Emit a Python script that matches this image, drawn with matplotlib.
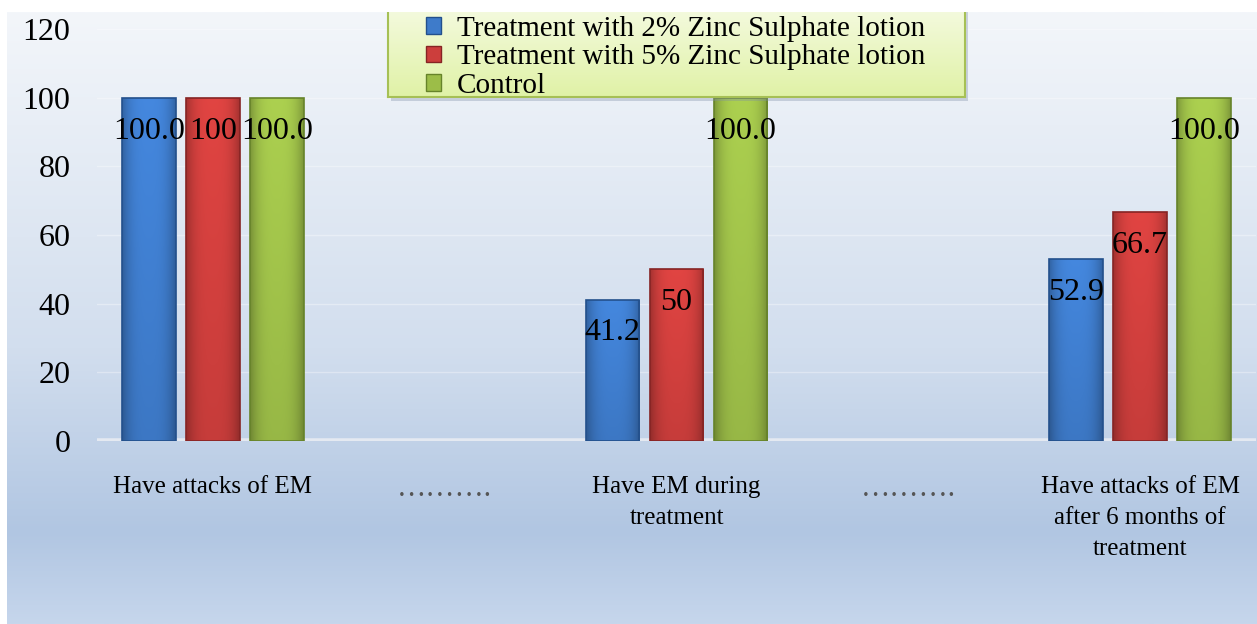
import numpy as np
import matplotlib.pyplot as plt
from matplotlib.patches import Patch, Rectangle
from matplotlib.colors import LinearSegmentedColormap, to_rgb

plt.rcParams['font.family'] = ['Liberation Serif', 'DejaVu Serif']

categories = ['Have attacks of EM', '……….', 'Have EM during\ntreatment', '……….',
              'Have attacks of EM\nafter 6 months of\ntreatment']
series = ['Treatment with 2% Zinc Sulphate lotion',
          'Treatment with 5% Zinc Sulphate lotion',
          'Control']
zinc2 = [100.0, np.nan, 41.2, np.nan, 52.9]
zinc5 = [100, np.nan, 50, np.nan, 66.7]
control = [100.0, np.nan, 100.0, np.nan, 100.0]
fmts = ['%.1f', '%g', '%.1f']

colors = ['#3e7bca', '#cc3e3c', '#9cbd48']
edges = ['#23508c', '#862424', '#66832a']

W, H = 1257, 624
fig = plt.figure(figsize=(W / 100, H / 100), dpi=100, facecolor='white')

# background gradient panel
bg = fig.add_axes([7 / W, 0, 1 - 7 / W, 1 - 12 / H], zorder=-5)
bg_cmap = LinearSegmentedColormap.from_list(
    'bg', [(0, '#f3f6fa'), (0.55, '#d2deee'), (0.85, '#b1c6e2'), (1, '#c6d6ec')])
grad = np.linspace(0, 1, 256).reshape(-1, 1)
bg.imshow(grad, aspect='auto', cmap=bg_cmap, extent=[0, 1, 0, 1], origin='upper')
bg.set_axis_off()

ax = fig.add_axes([97 / W, (H - 441) / H, (1256 - 97) / W, (441 - 29) / H])
ax.patch.set_alpha(0)


def shade(c):
    # glossy look: darker sides, lighter top
    base = np.array(to_rgb(c))
    hx = np.linspace(-1, 1, 40)
    hfac = 1.08 - 0.28 * np.abs(hx) ** 3
    vy = np.linspace(0, 1, 60).reshape(-1, 1)
    vfac = 0.9 + 0.12 * vy
    img = base[None, None, :] * (hfac[None, :, None] * vfac[:, :, None])
    return np.clip(img, 0, 1)


x = np.arange(len(categories))
w = 0.232
off = 0.276
for i, (vals, fmt) in enumerate(zip([zinc2, zinc5, control], fmts)):
    pos = x + (i - 1) * off
    bars = ax.bar(pos, vals, w, color=colors[i], edgecolor='none', zorder=3)
    ax.bar(pos, vals, w, color='none', edgecolor=edges[i], linewidth=1.2, zorder=4)
    img = shade(colors[i])
    for b in bars:
        if np.isnan(b.get_height()):
            continue
        im = ax.imshow(img, extent=[b.get_x(), b.get_x() + b.get_width(), 0, b.get_height()],
                       origin='lower', aspect='auto', zorder=3.5, interpolation='bilinear')
        im.set_clip_path(b)
    for p, v in zip(pos, vals):
        if np.isnan(v):
            continue
        ax.annotate(fmt % v, (p, v), xytext=(0, -24), textcoords='offset points',
                    ha='center', va='center', fontsize=23, zorder=5)

ax.set_xlim(-0.5, 4.5)
ax.set_ylim(0, 120)
ax.set_yticks(np.arange(0, 121, 20))
ax.set_xticks(x)
ax.set_xticklabels(categories, fontsize=18, linespacing=1.55)
for lbl in ax.get_xticklabels():
    if lbl.get_text().startswith('…'):
        lbl.set_color('#555555')
        lbl.set_fontsize(21)
ax.tick_params(axis='y', length=0, labelsize=23, pad=19)
ax.tick_params(axis='x', length=0, pad=25)
for s in ax.spines.values():
    s.set_visible(False)
ax.yaxis.grid(True, color='white', alpha=0.35, linewidth=1)
ax.axhline(0, color='#e4e9f1', linewidth=4, zorder=2)
ax.set_axisbelow(True)

# legend box with gradient fill and shadow
fig.add_artist(Rectangle((391 / W, (H - 101) / H), 577 / W, 101 / H, transform=fig.transFigure,
                         facecolor='#7f8fa6', alpha=0.35, edgecolor='none', zorder=3))
lb = fig.add_axes([388 / W, (H - 97) / H, 577 / W, 97 / H], zorder=4)
lg_cmap = LinearSegmentedColormap.from_list('lg', ['#f6fbe4', '#e0f2a6'])
lb.imshow(grad, aspect='auto', cmap=lg_cmap, extent=[0, 1, 0, 1], origin='upper')
lb.set_xticks([])
lb.set_yticks([])
for s in lb.spines.values():
    s.set_color('#a6c055')
    s.set_linewidth(1.5)

handles = [Patch(facecolor=c, edgecolor=e) for c, e in zip(colors, edges)]
leg = fig.legend(handles, series, loc='upper left',
                 bbox_to_anchor=(426 / W, (H - 16) / H), borderaxespad=0, borderpad=0,
                 fontsize=21, frameon=False, handlelength=0.5, handleheight=0.5,
                 handletextpad=0.55, labelspacing=0.08)
leg.set_zorder(6)

fig.add_artist(Rectangle((0, 1 - 12 / H), 1, 12 / H, transform=fig.transFigure,
                         facecolor='white', edgecolor='none', zorder=20))

fig.savefig('out.png', dpi=100, facecolor='white')
